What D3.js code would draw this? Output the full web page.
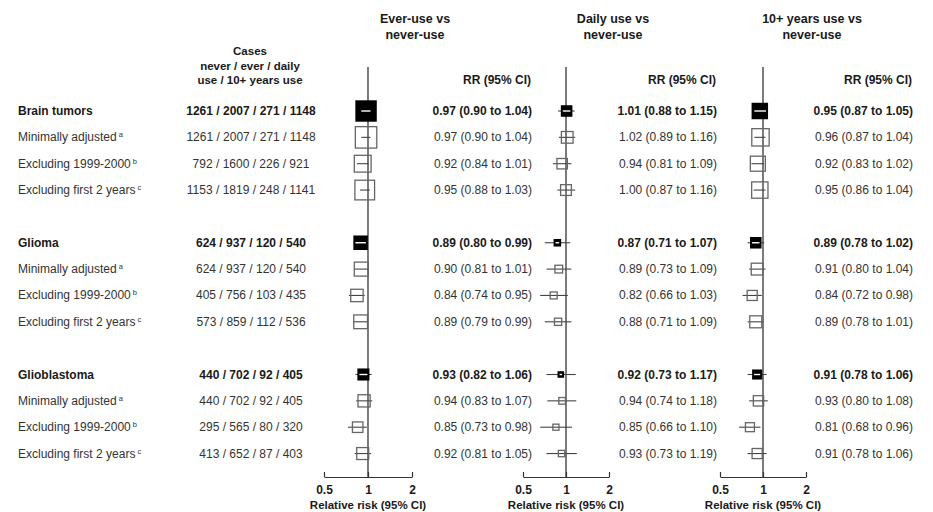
<!DOCTYPE html>
<html><head><meta charset="utf-8">
<script src="https://cdn.jsdelivr.net/npm/d3@7"></script>
<style>
html,body{margin:0;padding:0;background:#fff;}
text{font-family:"Liberation Sans",Arial,Helvetica,sans-serif;}
</style></head>
<body><svg id="c" width="933" height="512"></svg>
<script>
// ---------- data ----------
const rowLabels = ["Brain tumors","Minimally adjusted","Excluding 1999-2000","Excluding first 2 years",
  "Glioma","Minimally adjusted","Excluding 1999-2000","Excluding first 2 years",
  "Glioblastoma","Minimally adjusted","Excluding 1999-2000","Excluding first 2 years"];
const rowSup = ["","a","b","c","","a","b","c","","a","b","c"];
const rowSlot = [0,1,2,3,5,6,7,8,10,11,12,13];
const rowBold = [true,false,false,false,true,false,false,false,true,false,false,false];
const cases = ["1261 / 2007 / 271 / 1148","1261 / 2007 / 271 / 1148","792 / 1600 / 226 / 921","1153 / 1819 / 248 / 1141",
  "624 / 937 / 120 / 540","624 / 937 / 120 / 540","405 / 756 / 103 / 435","573 / 859 / 112 / 536",
  "440 / 702 / 92 / 405","440 / 702 / 92 / 405","295 / 565 / 80 / 320","413 / 652 / 87 / 403"];
const casesHeader = ["Cases","never / ever / daily","use / 10+ years use"];
const panelTitles = [["Ever-use vs","never-use"],["Daily use vs","never-use"],["10+ years use vs","never-use"]];
const everRR = [0.97,0.97,0.92,0.95, 0.89,0.90,0.84,0.89, 0.93,0.94,0.85,0.92];
const everLo = [0.90,0.90,0.84,0.88, 0.80,0.81,0.74,0.79, 0.82,0.83,0.73,0.81];
const everHi = [1.04,1.04,1.01,1.03, 0.99,1.01,0.95,0.99, 1.06,1.07,0.98,1.05];
const dailyRR = [1.01,1.02,0.94,1.00, 0.87,0.89,0.82,0.88, 0.92,0.94,0.85,0.93];
const dailyLo = [0.88,0.89,0.81,0.87, 0.71,0.73,0.66,0.71, 0.73,0.74,0.66,0.73];
const dailyHi = [1.15,1.16,1.09,1.16, 1.07,1.09,1.03,1.09, 1.17,1.18,1.10,1.19];
const tenRR = [0.95,0.96,0.92,0.95, 0.89,0.91,0.84,0.89, 0.91,0.93,0.81,0.91];
const tenLo = [0.87,0.87,0.83,0.86, 0.78,0.80,0.72,0.78, 0.78,0.80,0.68,0.78];
const tenHi = [1.05,1.04,1.02,1.04, 1.02,1.04,0.98,1.01, 1.06,1.08,0.96,1.06];
const tickValues = [0.5,1,2];
const tickLabels = ["0.5","1","2"];
const axisTitle = "Relative risk (95% CI)";
const colHeader = "RR (95% CI)";

// ---------- layout ----------
const svg = d3.select("#c");
const panels = [
  {rr:everRR, lo:everLo, hi:everHi, range:[324,412], titleX:415, textRight:532},
  {rr:dailyRR, lo:dailyLo, hi:dailyHi, range:[523,609], titleX:613, textRight:717},
  {rr:tenRR, lo:tenLo, hi:tenHi, range:[720,806], titleX:812, textRight:913}
];
const yRow = d3.scaleLinear().domain([0,13]).range([111, 111+13*26.35]);
const axisY = 477, refTop = 67;
const sizeScale = d3.scaleLinear().domain([0,1]).range([0,0.79]); // box side from precision (1/SE)
const f2 = d3.format(".2f");
const textDark = "#1a1a1a", textReg = "#333";

// left labels
const lab = svg.append("g");
rowLabels.forEach((l,i)=>{
  const t = lab.append("text").attr("x",18).attr("y",yRow(rowSlot[i])+4)
    .attr("font-size",12).attr("font-weight",rowBold[i]?"bold":"normal")
    .attr("fill",rowBold[i]?textDark:textReg).text(l);
  if(rowSup[i]) t.append("tspan").attr("dy",-4).attr("font-size",7.5).attr("dx",2).text(rowSup[i]);
});
// cases column
casesHeader.forEach((h,i)=>{
  svg.append("text").attr("x",250).attr("y",55+i*14.5).attr("text-anchor","middle")
    .attr("font-size",11.5).attr("font-weight","bold").attr("fill",textDark).text(h);
});
cases.forEach((c,i)=>{
  svg.append("text").attr("x",251).attr("y",yRow(rowSlot[i])+4).attr("text-anchor","middle")
    .attr("font-size",12).attr("font-weight",rowBold[i]?"bold":"normal")
    .attr("fill",rowBold[i]?textDark:textReg).text(c);
});

// panels
panels.forEach((p,pi)=>{
  const x = d3.scaleLog().domain([0.5,2]).range(p.range);
  const g = svg.append("g");
  // titles
  panelTitles[pi].forEach((t,k)=>{
    g.append("text").attr("x",p.titleX).attr("y",23+k*16).attr("text-anchor","middle")
      .attr("font-size",12.5).attr("font-weight","bold").attr("fill",textDark).text(t);
  });
  g.append("text").attr("x",p.textRight-1).attr("y",84).attr("text-anchor","end")
    .attr("font-size",12).attr("font-weight","bold").attr("fill",textDark).text(colHeader);
  // reference line
  g.append("line").attr("x1",x(1)).attr("x2",x(1)).attr("y1",refTop).attr("y2",axisY)
    .attr("stroke","#444").attr("stroke-width",1.4);
  // axis
  const ax = d3.axisBottom(x).tickValues(tickValues).tickFormat((d,i)=>tickLabels[i]).tickSizeInner(-5).tickSizeOuter(0);
  const axg = g.append("g").attr("transform",`translate(0,${axisY})`).call(ax);
  axg.select(".domain").attr("stroke","#333").attr("stroke-width",1.2);
  axg.selectAll(".tick line").attr("stroke","#333").attr("stroke-width",1.2);
  axg.selectAll(".tick text").attr("y",8).attr("font-size",12).attr("font-weight","bold")
    .attr("fill",textDark).attr("font-family","Liberation Sans, Arial, sans-serif");
  g.append("text").attr("x",x(1)).attr("y",509).attr("text-anchor","middle")
    .attr("font-size",11.5).attr("font-weight","bold").attr("fill",textDark).text(axisTitle);

  // rows
  p.rr.forEach((rr,i)=>{
    const y = yRow(rowSlot[i]);
    const lo = p.lo[i], hi = p.hi[i];
    const prec = 2*1.96/(Math.log(hi)-Math.log(lo));
    const s = sizeScale(prec);
    const cx = x(rr);
    g.append("line").attr("x1",x(lo)).attr("x2",x(hi)).attr("y1",y).attr("y2",y)
      .attr("stroke","#444").attr("stroke-width",1.1);
    if(rowBold[i]){
      g.append("rect").attr("x",cx-s/2).attr("y",y-s/2).attr("width",s).attr("height",s).attr("fill","#000");
      const a = Math.max(x(lo),cx-s/2+2), b = Math.min(x(hi),cx+s/2-2);
      if(b>a) g.append("line").attr("x1",a).attr("x2",b).attr("y1",y).attr("y2",y)
        .attr("stroke","#fff").attr("stroke-width",1.4);
    } else {
      g.append("rect").attr("x",cx-s/2).attr("y",y-s/2).attr("width",s).attr("height",s)
        .attr("fill","none").attr("stroke","#666").attr("stroke-width",1.3);
    }
    g.append("text").attr("x",p.textRight).attr("y",y+4).attr("text-anchor","end")
      .attr("font-size",12).attr("font-weight",rowBold[i]?"bold":"normal")
      .attr("fill",rowBold[i]?textDark:textReg)
      .text(`${f2(rr)} (${f2(lo)} to ${f2(hi)})`);
  });
});
</script></body></html>
